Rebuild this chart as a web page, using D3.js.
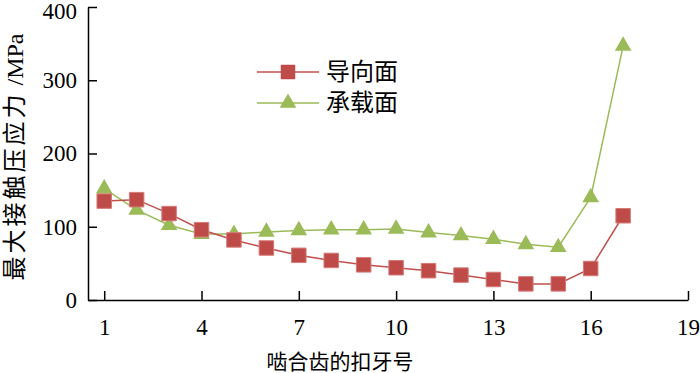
<!DOCTYPE html>
<html>
<head>
<meta charset="utf-8">
<script src="https://cdn.jsdelivr.net/npm/d3@7"></script>
<style>
  body { margin: 0; background: #fff; }
  svg text { font-family: "Liberation Serif", "Noto Sans CJK SC", serif; fill: #000; }
</style>
</head>
<body>
<div id="chart"></div>
<script>
// data
var toothNo = [1, 2, 3, 4, 5, 6, 7, 8, 9, 10, 11, 12, 13, 14, 15, 16, 17];
var guideFace = [135, 137, 118, 96, 82, 71, 61, 54, 48, 44, 40, 34, 28, 22, 22, 43, 115];
var loadFace = [152, 123, 102, 90, 90, 93, 95, 96, 96, 97, 92, 88, 83, 76, 72, 140, 347];
var xTicks = [1, 4, 7, 10, 13, 16, 19];
var yTicks = [0, 100, 200, 300, 400];
var seriesNames = ["导向面", "承载面"];

var W = 700, H = 373;
var margin = { top: 7, right: 12, bottom: 73, left: 88 },
    width = W - margin.left - margin.right,
    height = H - margin.top - margin.bottom;

var red = "#c0504d", green = "#9bbb59";

var svg = d3.select("#chart")
    .append("svg")
    .attr("width", W)
    .attr("height", H);

var g = svg.append("g")
    .attr("transform", "translate(" + margin.left + "," + margin.top + ")");

var x = d3.scaleLinear().domain([0.5, 19]).range([0, width]);
var y = d3.scaleLinear().domain([0, 400]).range([height, 0]);

// axes with inward ticks
var xAxis = g.append("g")
    .attr("transform", "translate(0," + height + ")")
    .call(d3.axisBottom(x).tickValues(xTicks).tickSizeInner(-9).tickSizeOuter(0).tickPadding(19));
var yAxis = g.append("g")
    .call(d3.axisLeft(y).tickValues(yTicks).tickSizeInner(-9).tickSizeOuter(0).tickPadding(11));

[xAxis, yAxis].forEach(function (a) {
    a.selectAll("path.domain").attr("stroke", "#000").attr("stroke-width", 1.5);
    a.selectAll(".tick line").attr("stroke", "#000").attr("stroke-width", 1.5);
    a.selectAll(".tick text")
        .attr("fill", "#000")
        .style("font-size", "23px")
        .style("font-family", "'Liberation Serif', serif");
});
// top label sits a bit lower so it is not cut off
yAxis.selectAll(".tick text").filter(function (d) { return d === 400; })
    .attr("dy", "0.52em");

// series lines
var line = d3.line()
    .x(function (d, i) { return x(toothNo[i]); })
    .y(function (d) { return y(d); });

g.append("path").datum(loadFace)
    .attr("fill", "none").attr("stroke", green).attr("stroke-width", 1.5)
    .attr("d", line);
g.append("path").datum(guideFace)
    .attr("fill", "none").attr("stroke", red).attr("stroke-width", 1.5)
    .attr("d", line);

var square = d3.symbol().type(d3.symbolSquare).size(210);
var triangle = d3.symbol().type(d3.symbolTriangle).size(120);

g.selectAll(".tri").data(loadFace).enter()
    .append("path")
    .attr("class", "tri")
    .attr("d", triangle)
    .attr("transform", function (d, i) { return "translate(" + x(toothNo[i]) + "," + y(d) + ")"; })
    .attr("fill", green);

g.selectAll(".sq").data(guideFace).enter()
    .append("path")
    .attr("class", "sq")
    .attr("d", square)
    .attr("transform", function (d, i) { return "translate(" + x(toothNo[i]) + "," + y(d) + ")"; })
    .attr("fill", "#be4b48")
    .attr("stroke", "#d47a78")
    .attr("stroke-width", 1);

// legend
var legend = svg.append("g");
var legendRows = [
    { name: seriesNames[0], color: red, sym: square, fill: "#be4b48" },
    { name: seriesNames[1], color: green, sym: triangle, fill: green }
];
legendRows.forEach(function (r, i) {
    var ly = 72 + i * 31;
    legend.append("line")
        .attr("x1", 257).attr("x2", 319).attr("y1", ly).attr("y2", ly)
        .attr("stroke", r.color).attr("stroke-width", 1.5);
    legend.append("path")
        .attr("d", r.sym)
        .attr("transform", "translate(288," + ly + ")")
        .attr("fill", r.fill);
    legend.append("text")
        .attr("x", 326).attr("y", ly + 8)
        .style("font-size", "24px")
        .text(r.name);
});

// axis titles
svg.append("text")
    .attr("x", 340).attr("y", 369)
    .attr("text-anchor", "middle")
    .style("font-size", "21px")
    .text("啮合齿的扣牙号");

var yTitle = svg.append("text")
    .attr("transform", "translate(23,157) rotate(-90)")
    .attr("text-anchor", "middle")
    .style("font-size", "24px");
yTitle.append("tspan").style("letter-spacing", "3px").text("最大接触压应力");
yTitle.append("tspan").text(" /MPa");
</script>
</body>
</html>
